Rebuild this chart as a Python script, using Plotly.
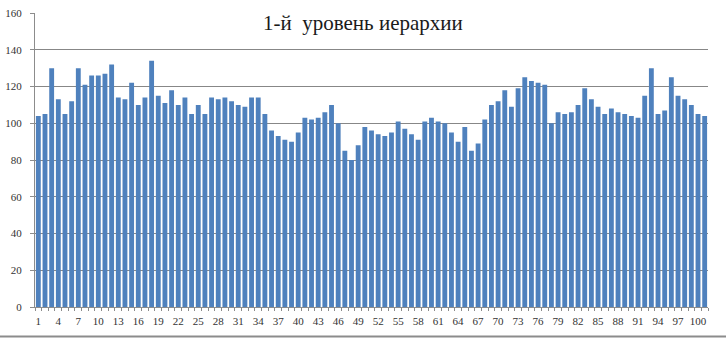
import plotly.graph_objects as go

# Data
categories = list(range(1, 102))
values = [
    104, 105, 130, 113, 105, 112, 130, 121, 126, 126,
    127, 132, 114, 113, 122, 110, 114, 134, 115, 111,
    118, 110, 114, 105, 110, 105, 114, 113, 114, 112,
    110, 109, 114, 114, 105, 96, 93, 91, 90, 95,
    103, 102, 103, 106, 110, 100, 85, 80, 88, 98,
    96, 94, 93, 95, 101, 97, 94, 91, 101, 103,
    101, 100, 95, 90, 98, 85, 89, 102, 110, 112,
    118, 109, 119, 125, 123, 122, 121, 100, 106, 105,
    106, 110, 119, 113, 109, 105, 108, 106, 105, 104,
    103, 115, 130, 105, 107, 125, 115, 113, 110, 105,
    104,
]
tick_labels = [str(i) for i in range(1, 101, 3)]
tick_vals = list(range(1, 101, 3))
y_ticks = list(range(0, 161, 20))
title_text = "1-й  уровень иерархии"

fig = go.Figure()
fig.add_trace(go.Bar(
    x=categories,
    y=values,
    marker=dict(color="#4F81BD", line=dict(width=0)),
    showlegend=False,
))

fig.update_layout(
    width=726,
    height=339,
    margin=dict(l=35, r=18, t=13, b=32, pad=0, autoexpand=False),
    paper_bgcolor="white",
    plot_bgcolor="white",
    bargap=0.27,
    font=dict(family="Liberation Serif, DejaVu Serif, serif", size=11, color="#333333"),
    xaxis=dict(
        range=[0.5, 101.5],
        tickmode="array",
        tickvals=tick_vals,
        ticktext=tick_labels,
        ticks="",
        showgrid=False,
        showline=True,
        linecolor="#8c8c8c",
        linewidth=1,
        zeroline=False,
        automargin=False,
        tickfont=dict(size=11, color="#333333"),
        minor=dict(ticks="outside", tick0=0.5, dtick=1, ticklen=3,
                   tickcolor="#8c8c8c", showgrid=False),
        ticklabelstandoff=4,
    ),
    yaxis=dict(
        range=[0, 160],
        tickmode="array",
        tickvals=y_ticks,
        ticks="outside",
        ticklen=4,
        tickcolor="#8c8c8c",
        showgrid=True,
        gridcolor="#878787",
        gridwidth=1.2,
        showline=True,
        linecolor="#8c8c8c",
        linewidth=1,
        zeroline=False,
        automargin=False,
        tickfont=dict(size=11, color="#333333"),
        ticklabelstandoff=6,
    ),
    annotations=[dict(
        text=title_text,
        xref="paper", yref="paper",
        x=0.487, y=0.967,
        xanchor="center", yanchor="middle",
        showarrow=False,
        font=dict(family="Liberation Serif, DejaVu Serif, serif", size=21, color="#1a1a1a"),
    )],
    shapes=[dict(
        type="line", xref="paper", yref="paper",
        x0=-0.06, x1=1.03, y0=-0.1, y1=-0.1,
        line=dict(color="#8c8c8c", width=2),
    )],
)

fig.write_html("out.html", config={"displayModeBar": False},
               post_script="document.body.style.margin='0';")
